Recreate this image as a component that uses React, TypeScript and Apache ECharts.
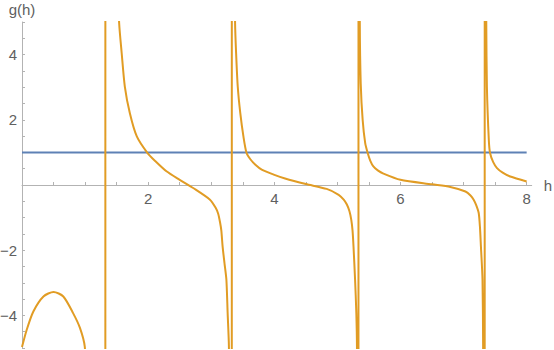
import React, { useEffect, useRef } from "react";
import * as echarts from "echarts";

// g(h), branch by branch ([h, g]); ±40 marks the off-scale jump at each pole
const branch1: number[][] = [
  [0, -4.97], [0.075, -4.44], [0.18, -3.88], [0.34, -3.42], [0.5, -3.28],
  [0.655, -3.42], [0.81, -3.93], [0.92, -4.39], [0.995, -4.96], [1.1, -8],
  [1.25, -20], [1.321, -40],
];
const branch2: number[][] = [
  [1.322, 40], [1.45, 9], [1.54, 4.97], [1.58, 4.05], [1.63, 3.02], [1.71, 2.2],
  [1.82, 1.49], [1.99, 0.98], [2.12, 0.72], [2.29, 0.42], [2.5, 0.16], [2.72, -0.1],
  [2.98, -0.45], [3.07, -0.7], [3.11, -0.88], [3.14, -1.15], [3.16, -1.4], [3.18, -1.88],
  [3.21, -2.4], [3.24, -2.9], [3.26, -3.93], [3.28, -4.96], [3.31, -12], [3.325, -40],
];
const branch3: number[][] = [
  [3.327, 40], [3.35, 11], [3.378, 4.97], [3.394, 4.05], [3.42, 3.02], [3.46, 2.21],
  [3.51, 1.49], [3.56, 0.98], [3.62, 0.79], [3.7, 0.62], [3.8, 0.47], [3.99, 0.32],
  [4.17, 0.2], [4.5, 0.03], [4.83, -0.12], [5.02, -0.3], [5.1, -0.45], [5.15, -0.6],
  [5.19, -0.8], [5.22, -1.07], [5.24, -1.4], [5.255, -1.88], [5.28, -2.9], [5.3, -3.93],
  [5.31, -4.96], [5.325, -13], [5.333, -40],
];
const branch4: number[][] = [
  [5.335, 40], [5.343, 14], [5.355, 4.97], [5.37, 3.1], [5.4, 2.0], [5.44, 1.29],
  [5.48, 0.98], [5.52, 0.75], [5.57, 0.57], [5.64, 0.45], [5.73, 0.35], [6.0, 0.16],
  [6.5, 0.02], [6.79, -0.06], [7.03, -0.2], [7.11, -0.32], [7.16, -0.45], [7.2, -0.62],
  [7.24, -0.86], [7.26, -1.3], [7.275, -1.88], [7.3, -2.9], [7.31, -4.96], [7.325, -13],
  [7.334, -40],
];
const branch5: number[][] = [
  [7.336, 40], [7.345, 12], [7.36, 4.97], [7.37, 3.0], [7.4, 1.39], [7.42, 0.98],
  [7.47, 0.7], [7.53, 0.52], [7.62, 0.38], [7.74, 0.26], [8.0, 0.11],
];
const constantLine: number[][] = [[0, 1], [8, 1]];

const xTickValues = [0.5, 1, 1.5, 2, 2.5, 3, 3.5, 4, 4.5, 5, 5.5, 6, 6.5, 7, 7.5, 8];
const xLabelValues = [2, 4, 6, 8];
const yLabelValues = [-4, -2, 2, 4];

const AXIS_COLOR = "#b3b3b3";
const LABEL_COLOR = "#606060";
const FONT = "Liberation Sans";
const FONT_SIZE = 15;

const GRID_TOP = 22;
const GRID_BOTTOM = 2;
const CHART_H = 350;
const PLOT_H = CHART_H - GRID_TOP - GRID_BOTTOM;

export default function App() {
  const ref = useRef<HTMLDivElement>(null);
  useEffect(() => {
    if (!ref.current) return;
    const chart = echarts.init(ref.current, undefined, { renderer: "svg" });
    const gData = [...branch1, ...branch2, ...branch3, ...branch4, ...branch5];
    chart.setOption({
      animation: false,
      grid: {
        left: 22,
        right: 22.3,
        top: GRID_TOP,
        bottom: GRID_BOTTOM,
        containLabel: false,
        outerBoundsMode: "none",
      },
      xAxis: {
        type: "value",
        min: 0,
        max: 8.08,
        position: "bottom",
        // y range is symmetric (-5..5), so the zero line sits half the plot height above the bottom
        offset: -PLOT_H / 2,
        name: "h",
        nameLocation: "end",
        nameGap: 12,
        nameTextStyle: { color: LABEL_COLOR, fontSize: FONT_SIZE, fontFamily: FONT, verticalAlign: "middle" },
        axisLine: { show: true, onZero: false, lineStyle: { color: AXIS_COLOR, width: 1 } },
        axisTick: { show: true, inside: true, length: 3, customValues: xTickValues, lineStyle: { color: AXIS_COLOR } },
        axisLabel: {
          customValues: xLabelValues,
          color: LABEL_COLOR,
          fontSize: FONT_SIZE,
          fontFamily: FONT,
          margin: 6,
          formatter: (v: number) => String(v),
        },
        splitLine: { show: false },
      },
      yAxis: {
        type: "value",
        min: -5,
        max: 5,
        interval: 0.5,
        name: "g(h)",
        nameLocation: "end",
        nameGap: 5,
        nameTextStyle: { color: LABEL_COLOR, fontSize: FONT_SIZE, fontFamily: FONT },
        axisLine: { show: true, onZero: false, lineStyle: { color: AXIS_COLOR, width: 1 } },
        axisTick: { show: true, inside: true, length: 3, lineStyle: { color: AXIS_COLOR } },
        axisLabel: {
          customValues: yLabelValues,
          color: LABEL_COLOR,
          fontSize: FONT_SIZE,
          fontFamily: FONT,
          margin: 5,
          formatter: (v: number) => (v < 0 ? "\u2212" + Math.abs(v) : String(v)),
        },
        splitLine: { show: false },
      },
      series: [
        {
          type: "line",
          data: constantLine,
          showSymbol: false,
          lineStyle: { color: "#5E81B5", width: 2 },
        },
        {
          type: "line",
          data: gData,
          showSymbol: false,
          smooth: 0.25,
          clip: true,
          lineStyle: { color: "#E19C24", width: 2 },
        },
      ],
    });
    return () => chart.dispose();
  }, []);
  return (
    <div
      ref={ref}
      style={{ position: "absolute", left: 0, top: 0, width: 554, height: 350 }}
    />
  );
}
